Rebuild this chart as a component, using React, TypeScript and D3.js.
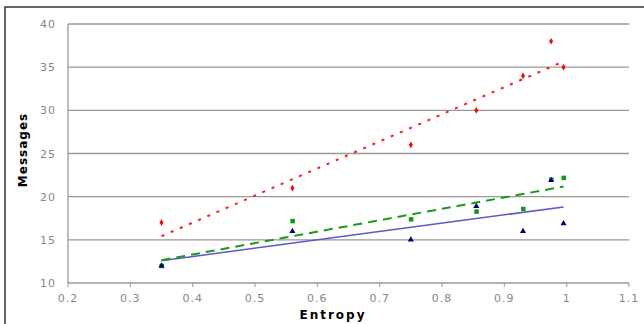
import React from 'react';
import * as d3 from 'd3';

// entropy values (shared x for all three series)
const entropy = [0.35, 0.56, 0.75, 0.855, 0.93, 0.975, 0.995];
const redValues = [17, 21, 26, 30, 34, 38, 35];
const greenValues = [12, 17.2, 17.4, 18.3, 18.6, 22, 22.2];
const blueValues = [12, 16, 15, 18.9, 16, 21.9, 16.9];
const xTicks = [0.2, 0.3, 0.4, 0.5, 0.6, 0.7, 0.8, 0.9, 1, 1.1];
const yTicks = [10, 15, 20, 25, 30, 35, 40];

const W = 644;
const H = 324;
const margin = { top: 24, right: 15, bottom: 41, left: 68 };

const x = d3.scaleLinear().domain([0.2, 1.1]).range([margin.left, W - margin.right]);
const y = d3.scaleLinear().domain([10, 40]).range([H - margin.bottom, margin.top]);

// least squares trend line over the data's x range
const trend = (xs: number[], ys: number[]) => {
  const mx = d3.mean(xs)!;
  const my = d3.mean(ys)!;
  const sxy = d3.sum(xs, (v, i) => (v - mx) * (ys[i] - my));
  const sxx = d3.sum(xs, v => (v - mx) ** 2);
  const b = sxy / sxx;
  const a = my - b * mx;
  const [x0, x1] = d3.extent(xs) as [number, number];
  return [[x0, a + b * x0], [x1, a + b * x1]] as [number, number][];
};

const line = d3.line<[number, number]>().x(d => x(d[0])).y(d => y(d[1]));

const fmt = (v: number) => (v === 1 ? '1' : String(v));

export default function App() {
  const labelFont = '"DejaVu Sans", Verdana, sans-serif';
  const triangle = d3.symbol().type(d3.symbolTriangle).size(16)()!;
  const diamond = d3.symbol().type(d3.symbolDiamond).size(13)()!;
  const baseY = y(10);

  return (
    <svg width={W} height={H} style={{ position: 'absolute', left: 0, top: 0, background: '#fff' }}>
      {/* outer frame */}
      <rect x={5} y={7} width={W} height={H} fill="none" stroke="#333" strokeWidth={1.5} />

      {/* gridlines */}
      {yTicks.filter(t => t > 10).map(t => (
        <line key={t} x1={x(0.2)} x2={x(1.1)} y1={y(t)} y2={y(t)} stroke="#999" strokeWidth={1.3} />
      ))}

      {/* axes */}
      <line x1={x(0.2)} x2={x(0.2)} y1={y(40)} y2={baseY} stroke="#999" strokeWidth={1.3} />
      <line x1={x(0.2)} x2={x(1.1)} y1={baseY} y2={baseY} stroke="#999" strokeWidth={1.3} />
      {xTicks.map(t => (
        <g key={t}>
          <line x1={x(t)} x2={x(t)} y1={baseY} y2={baseY + 4} stroke="#999" strokeWidth={1} />
          <text x={x(t)} y={baseY + 19} textAnchor="middle" fontSize={11} fill="#888"
            fontFamily={labelFont} letterSpacing={1}>{fmt(t)}</text>
        </g>
      ))}
      {yTicks.map(t => (
        <text key={t} x={56} y={y(t) + 4} textAnchor="end" fontSize={11} fill="#888"
          fontFamily={labelFont} letterSpacing={1}>{t}</text>
      ))}

      {/* axis titles */}
      <text x={333} y={319} textAnchor="middle" fontSize={12} fontWeight="bold"
        fontFamily={labelFont} letterSpacing={2} fill="#000">Entropy</text>
      <text transform="translate(27,150) rotate(-90)" textAnchor="middle" fontSize={12}
        fontWeight="bold" fontFamily={labelFont} letterSpacing={1} fill="#000">Messages</text>

      {/* trend lines */}
      <path d={line(trend(entropy, blueValues))!} fill="none" stroke="#5a5ac8" strokeWidth={1.5} />
      <path d={line(trend(entropy, greenValues))!} fill="none" stroke="#1a991a" strokeWidth={2}
        strokeDasharray="9,6" />
      <path d={line(trend(entropy, redValues))!} fill="none" stroke="#ff1a1a" strokeWidth={2}
        strokeDasharray="3,7" />

      {/* markers */}
      {entropy.map((e, i) => (
        <rect key={'g' + i} x={x(e) - 2} y={y(greenValues[i]) - 2} width={4.5} height={4.5} fill="#119911" />
      ))}
      {entropy.map((e, i) => (
        <path key={'b' + i} d={triangle} transform={`translate(${x(e)},${y(blueValues[i])})`} fill="#000080" />
      ))}
      {entropy.map((e, i) => (
        <path key={'r' + i} d={diamond} transform={`translate(${x(e)},${y(redValues[i])})`} fill="#ff0000" />
      ))}
    </svg>
  );
}
